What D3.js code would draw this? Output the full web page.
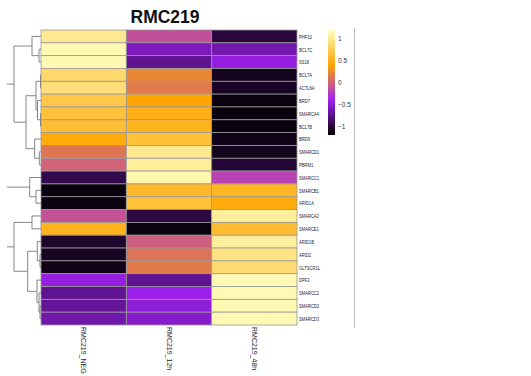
<!DOCTYPE html>
<html>
<head>
<meta charset="utf-8">
<script src="https://cdn.jsdelivr.net/npm/d3@7"></script>
<style>
  html, body { margin: 0; padding: 0; background: #ffffff; }
  svg { display: block; }
</style>
</head>
<body>
<svg id="chart" width="531" height="376"></svg>
<script>
// ---------------- data ----------------
const title = "RMC219";
const genes = ["PHF10","BCL7C","SS18","BCL7A","ACTL6A","BRD7","SMARCA4","BCL7B","BRD9","SMARCD1","PBRM1",
               "SMARCC1","SMARCB1","ARID1A","SMARCA2","SMARCE1","ARID1B","ARID2","GLTSCR1L","DPF2","SMARCC2","SMARCD2","SMARCD3"];
const samples = ["RMC219_NEG","RMC219_12h","RMC219_48h"];
const valuesNEG = [1.00, 1.15, 1.15, 0.85, 0.90, 0.71, 0.65, 0.62, 0.45, 0.12, 0.00,
                   -0.95, -1.15, -1.15, -0.10, 0.52, -1.05, -1.08, -1.12, -0.45, -0.72, -0.70, -0.63];
const values12h = [-0.12, -0.57, -0.72, 0.22, 0.15, 0.40, 0.50, 0.53, 0.65, 1.00, 1.05,
                   1.12, 0.57, 0.65, -0.98, -1.15, -0.02, 0.10, 0.15, -0.72, -0.42, -0.48, -0.52];
const values48h = [-0.99, -0.62, -0.45, -1.10, -1.07, -1.15, -1.15, -1.15, -1.12, -1.10, -1.02,
                   -0.20, 0.55, 0.45, 1.05, 0.60, 1.05, 0.95, 0.88, 1.15, 1.15, 1.15, 1.15];
const legendTicks = [1, 0.5, 0, -0.5, -1];
const colorStops = [-1.2, -0.4, 0.4, 1.2];
const colorRange = ["#000000", "#A020F0", "#FFA500", "#FFFFC0"];
// row dendrogram: [left, right, height]; negative = leaf row index (1-based), positive = earlier merge (1-based)
const merges = [
  [-4, -5, 0.05],   // 1
  [-7, -8, 0.05],   // 2
  [-6, 2, 0.35],    // 3
  [1, 3, 0.50],     // 4
  [-10, -11, 0.17], // 5
  [-9, 5, 0.63],    // 6
  [4, 6, 1.50],     // 7
  [-2, -3, 0.20],   // 8
  [-1, 8, 0.90],    // 9
  [9, 7, 2.70],     // 10 (cluster root)
  [-13, -14, 0.50], // 11
  [-12, 11, 1.13],  // 12 (cluster root)
  [-15, -16, 0.90], // 13
  [-18, -19, 0.10], // 14
  [-17, 14, 0.37],  // 15
  [-22, -23, 0.10], // 16
  [-21, 16, 0.20],  // 17
  [-20, 17, 0.40],  // 18
  [15, 18, 1.33],   // 19
  [13, 19, 2.70]    // 20 (cluster root)
];
const clusterRoots = [10, 12, 20];
const dendroTop = 3.4;

// ---------------- layout ----------------
const svg = d3.select("#chart");
const hmLeft = 41, hmRight = 297, hmTop = 30, hmBottom = 325;

const x = d3.scaleBand().domain(samples).range([hmLeft, hmRight]).padding(0);
const y = d3.scaleBand().domain(genes).range([hmTop, hmBottom]).padding(0);
const color = d3.scaleLinear().domain(colorStops).range(colorRange).clamp(true);

const cells = [];
const seriesVals = [valuesNEG, values12h, values48h];
genes.forEach((g, i) => samples.forEach((s, j) => cells.push({g, s, v: seriesVals[j][i]})));

// title
svg.append("text")
  .attr("x", 165).attr("y", 23)
  .attr("text-anchor", "middle")
  .attr("font-family", "Liberation Sans, Arial, sans-serif")
  .attr("font-weight", "bold")
  .attr("font-size", 19)
  .attr("textLength", 69).attr("lengthAdjust", "spacingAndGlyphs")
  .attr("fill", "#111")
  .text(title);

// heatmap cells
svg.append("g").selectAll("rect").data(cells).join("rect")
  .attr("x", d => x(d.s)).attr("y", d => y(d.g))
  .attr("width", x.bandwidth()).attr("height", y.bandwidth())
  .attr("fill", d => color(d.v))
  .attr("stroke", "#999999").attr("stroke-width", 0.8);

// dendrogram
const hx = d3.scaleLinear().domain([0, dendroTop]).range([hmLeft, 7]);
const nodeY = [], nodeH = [];
function childPos(c) {
  if (c < 0) return {y: y(genes[-c - 1]) + y.bandwidth() / 2, h: 0};
  return {y: nodeY[c - 1], h: nodeH[c - 1]};
}
const dg = svg.append("g").attr("fill", "none").attr("stroke", "#858585").attr("stroke-width", 1);
merges.forEach((m, k) => {
  const a = childPos(m[0]), b = childPos(m[1]);
  const h = m[2];
  nodeY[k] = (a.y + b.y) / 2; nodeH[k] = h;
  const path = d3.path();
  path.moveTo(hx(a.h), a.y); path.lineTo(hx(h), a.y);
  path.lineTo(hx(h), b.y); path.lineTo(hx(b.h), b.y);
  dg.append("path").attr("d", path.toString());
});
clusterRoots.forEach(r => {
  dg.append("line")
    .attr("x1", hx(nodeH[r - 1])).attr("x2", hx(dendroTop))
    .attr("y1", nodeY[r - 1]).attr("y2", nodeY[r - 1]);
});

// row labels
svg.append("g").selectAll("text").data(genes).join("text")
  .attr("transform", d => `translate(299,${y(d) + y.bandwidth() / 2}) scale(0.7,1)`)
  .attr("dominant-baseline", "central")
  .attr("font-family", "Liberation Sans, Arial, sans-serif")
  .attr("font-size", 5.9)
  .attr("fill", "#1a1a2e")
  .text(d => d);

// column labels
svg.append("g").selectAll("text").data(samples).join("text")
  .attr("transform", d => `translate(${x(d) + x.bandwidth() / 2},327) rotate(90)`)
  .attr("dominant-baseline", "central")
  .attr("font-family", "Liberation Sans, Arial, sans-serif")
  .attr("font-size", 7)
  .attr("fill", "#1a1a2e")
  .text(d => d);

// legend
const ly = d3.scaleLinear().domain([colorStops[0], colorStops[colorStops.length - 1]]).range([135, 30]);
const defs = svg.append("defs");
const grad = defs.append("linearGradient").attr("id", "lg")
  .attr("x1", 0).attr("y1", 1).attr("x2", 0).attr("y2", 0);
colorStops.forEach((s, i) => grad.append("stop")
  .attr("offset", (s - colorStops[0]) / (colorStops[colorStops.length - 1] - colorStops[0]))
  .attr("stop-color", colorRange[i]));
svg.append("rect").attr("x", 328).attr("y", ly.range()[1])
  .attr("width", 7).attr("height", ly.range()[0] - ly.range()[1])
  .attr("fill", "url(#lg)");
svg.append("g").selectAll("text").data(legendTicks).join("text")
  .attr("x", 338).attr("y", d => ly(d))
  .attr("dominant-baseline", "central")
  .attr("font-family", "Liberation Sans, Arial, sans-serif")
  .attr("font-size", 6.5)
  .attr("fill", "#333")
  .text(d => d3.format("")(d).replace("-", "\u2212"));

// right separator line
svg.append("line").attr("x1", 354.5).attr("x2", 354.5).attr("y1", 28).attr("y2", 328)
  .attr("stroke", "#c0c0c0").attr("stroke-width", 1);
</script>
</body>
</html>
